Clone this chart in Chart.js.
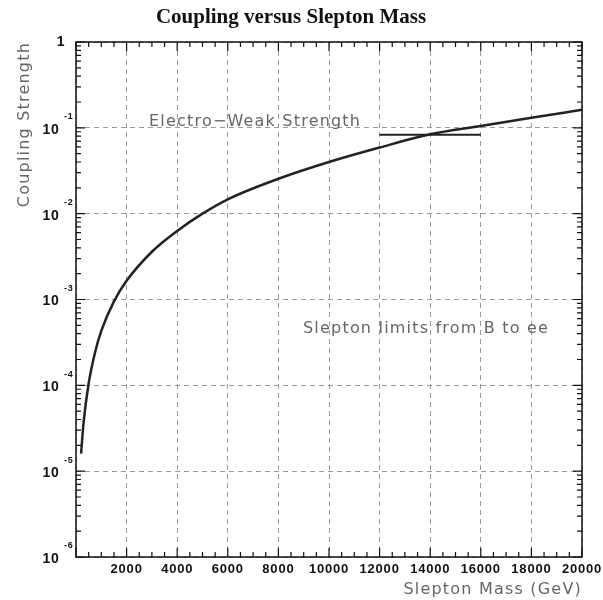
<!DOCTYPE html>
<html lang="en">
<head>
    <meta charset="UTF-8">
    <title>Coupling versus Slepton Mass</title>
    <script src="https://cdn.jsdelivr.net/npm/chart.js"></script>
    <style>
        html, body { margin: 0; padding: 0; background: #fff; }
        #wrap { width: 603px; height: 600px; }
    </style>
</head>
<body>
    <div id="wrap"><canvas id="couplingChart" width="603" height="600"></canvas></div>

    <script>
        // Slepton mass (GeV) and the coupling strength limit from B -> ee
        const massGeV = [200, 300, 500, 750, 1000, 1500, 2000, 3000, 4000, 5000, 6000,
                         8000, 10000, 12000, 14000, 16000, 18000, 20000];
        const coupling = [1.6e-5, 3.7e-5, 1.05e-4, 2.4e-4, 4.3e-4, 9.5e-4, 1.65e-3, 3.6e-3,
                          6.3e-3, 1.0e-2, 1.47e-2, 2.55e-2, 4.0e-2, 5.9e-2, 8.4e-2,
                          1.05e-1, 1.31e-1, 1.62e-1];

        // Electro-weak strength reference segment
        const ewMass = [12000, 16000];
        const ewStrength = [0.083, 0.083];

        // Axis tick labels
        const massTicks = [2000, 4000, 6000, 8000, 10000, 12000, 14000, 16000, 18000, 20000];
        const decadeValues = [1, 1e-1, 1e-2, 1e-3, 1e-4, 1e-5, 1e-6];
        const decadeExponents = ['', '-1', '-2', '-3', '-4', '-5', '-6'];

        const gridStyle = { color: '#9a9a9a', lineWidth: 1, drawTicks: false };
        const gridDash = [5, 4];

        // ROOT-like frame: inward ticks on all sides, labels, titles and text
        const framePlugin = {
            id: 'frame',
            afterDraw(chart) {
                const ctx = chart.ctx;
                const area = chart.chartArea;
                const xs = chart.scales.x;
                const ys = chart.scales.y;
                ctx.save();

                // frame
                ctx.strokeStyle = '#111';
                ctx.lineWidth = 1.5;
                ctx.strokeRect(area.left, area.top, area.right - area.left, area.bottom - area.top);

                // x ticks, every 500 GeV
                ctx.lineWidth = 1.2;
                ctx.beginPath();
                for (let m = 0; m <= 20000; m += 500) {
                    const px = xs.getPixelForValue(m);
                    const len = (m % 2000 === 0) ? 9 : 5;
                    ctx.moveTo(px, area.bottom); ctx.lineTo(px, area.bottom - len);
                    ctx.moveTo(px, area.top); ctx.lineTo(px, area.top + len);
                }
                // y ticks, decades plus 2..9 in between
                for (let e = -6; e <= 0; e++) {
                    for (let k = 1; k <= 9; k++) {
                        const v = k * Math.pow(10, e);
                        if (v > 1) break;
                        const py = ys.getPixelForValue(v);
                        const len = (k === 1) ? 9 : 5;
                        ctx.moveTo(area.left, py); ctx.lineTo(area.left + len, py);
                        ctx.moveTo(area.right, py); ctx.lineTo(area.right - len, py);
                    }
                }
                ctx.stroke();

                // x tick labels
                ctx.fillStyle = '#111';
                ctx.font = 'bold 13px "Liberation Sans", Arial, sans-serif';
                ctx.letterSpacing = '0.8px';
                ctx.textAlign = 'center';
                ctx.textBaseline = 'middle';
                massTicks.forEach(m => {
                    ctx.fillText(String(m), xs.getPixelForValue(m), area.bottom + 12);
                });

                // y tick labels with exponent
                decadeValues.forEach((v, i) => {
                    const py = ys.getPixelForValue(v);
                    ctx.font = 'bold 14px "Liberation Sans", Arial, sans-serif';
                    ctx.textAlign = 'center';
                    if (decadeExponents[i] === '') {
                        ctx.fillText('1', 61, py);
                        return;
                    }
                    ctx.fillText('10', 51, py + 2);
                    ctx.font = 'bold 9px "Liberation Sans", Arial, sans-serif';
                    ctx.textAlign = 'left';
                    ctx.fillText(decadeExponents[i], 64, py - 11);
                });
                ctx.letterSpacing = '0px';

                // chart title
                ctx.fillStyle = '#111';
                ctx.font = 'bold 21px "Liberation Serif", "Times New Roman", serif';
                ctx.textAlign = 'center';
                ctx.fillText('Coupling versus Slepton Mass', 291, 18);

                // axis titles
                ctx.fillStyle = '#666';
                ctx.font = '16px "DejaVu Sans", sans-serif';
                ctx.letterSpacing = '1.2px';
                ctx.textAlign = 'right';
                ctx.fillText('Slepton Mass (GeV)', area.right, 590);
                ctx.save();
                ctx.translate(25, area.top);
                ctx.rotate(-Math.PI / 2);
                ctx.textAlign = 'right';
                ctx.fillText('Coupling Strength', 0, 0);
                ctx.restore();

                // annotations
                ctx.textAlign = 'left';
                ctx.fillText('Electro\u2212Weak Strength', 149, 122);
                ctx.fillText('Slepton limits from B to ee', 303, 329);
                ctx.letterSpacing = '0px';

                ctx.restore();
            }
        };

        const ctx = document.getElementById('couplingChart').getContext('2d');
        const couplingChart = new Chart(ctx, {
            type: 'line',
            data: {
                datasets: [{
                    label: 'Slepton limits from B to ee',
                    data: massGeV.map((m, i) => ({ x: m, y: coupling[i] })),
                    borderColor: '#222',
                    borderWidth: 2.5,
                    pointRadius: 0,
                    cubicInterpolationMode: 'monotone',
                    fill: false
                }, {
                    label: 'Electro-Weak Strength',
                    data: ewMass.map((m, i) => ({ x: m, y: ewStrength[i] })),
                    borderColor: '#222',
                    borderWidth: 2,
                    pointRadius: 0,
                    fill: false
                }]
            },
            options: {
                responsive: false,
                animation: false,
                layout: { padding: { left: 76, right: 21, top: 42, bottom: 43 } },
                plugins: {
                    legend: { display: false },
                    tooltip: { enabled: false }
                },
                scales: {
                    x: {
                        type: 'linear',
                        min: 0,
                        max: 20000,
                        ticks: { display: false, stepSize: 2000 },
                        grid: gridStyle,
                        border: { display: false, dash: gridDash }
                    },
                    y: {
                        type: 'logarithmic',
                        min: 1e-6,
                        max: 1,
                        afterBuildTicks: axis => {
                            axis.ticks = decadeValues.map(v => ({ value: v }));
                        },
                        ticks: { display: false },
                        grid: gridStyle,
                        border: { display: false, dash: gridDash }
                    }
                }
            },
            plugins: [framePlugin]
        });
    </script>
</body>
</html>
